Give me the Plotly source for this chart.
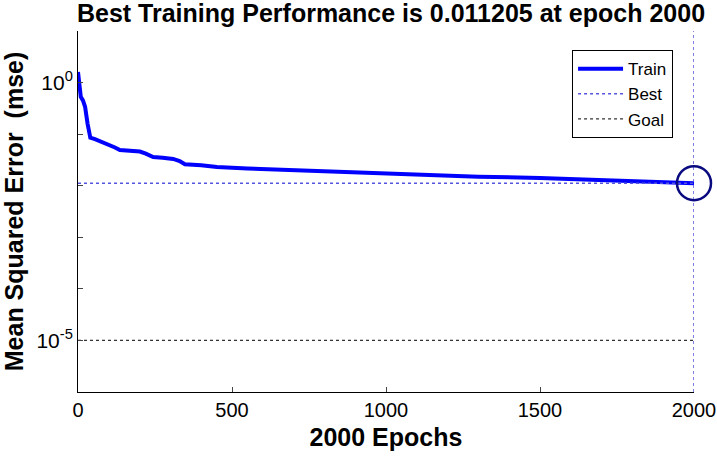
import plotly.graph_objects as go

# ---- data ----
epochs = [0, 4, 9, 16, 23, 31, 40, 55, 75, 104, 120, 136, 170, 201, 220, 244, 275, 309, 330, 347,
          400, 451, 550, 650, 743, 850, 1000, 1150, 1300, 1500, 1650, 1800, 1900, 2000]
train_mse = [1.6, 0.85, 0.53, 0.45, 0.34, 0.16, 0.085, 0.080, 0.072, 0.062, 0.055, 0.049, 0.047,
             0.046, 0.042, 0.036, 0.035, 0.033, 0.030, 0.026, 0.025, 0.023, 0.0215, 0.0205,
             0.0195, 0.0185, 0.0170, 0.0160, 0.0150, 0.0141, 0.0130, 0.0122, 0.0117, 0.011205]
best_epoch = 2000
best_perf = 0.011205
goal = 1e-5
y_min, y_max = 1e-6, 1e1
x_ticks = [0, 500, 1000, 1500, 2000]
y_tickvals = [1e0, 1e-5]
y_ticktext = ["10<sup>0</sup>", "10<sup>-5</sup>"]
y_minor = [1e1, 1e0, 1e-1, 1e-2, 1e-3, 1e-4, 1e-5, 1e-6]

FONT = "Liberation Sans, Arial, sans-serif"

fig = go.Figure()
fig.add_trace(go.Scatter(x=epochs, y=train_mse, mode="lines", name="Train",
                         line=dict(color="#0000ff", width=4)))
fig.add_trace(go.Scatter(x=[0, best_epoch, None, best_epoch, best_epoch],
                         y=[best_perf, best_perf, None, y_min, y_max],
                         mode="lines", name="Best",
                         line=dict(color="#5555dd", width=1.5, dash="dot")))
fig.add_trace(go.Scatter(x=[0, best_epoch], y=[goal, goal], mode="lines", name="Goal",
                         line=dict(color="#333333", width=1.2, dash="dot")))
fig.add_trace(go.Scatter(x=[best_epoch], y=[best_perf], mode="markers", showlegend=False,
                         cliponaxis=False,
                         marker=dict(symbol="circle-open", size=34,
                                     line=dict(color="#0a0a80", width=2.5), color="#0a0a80")))

fig.update_layout(
    width=717, height=462,
    margin=dict(l=78, r=23, t=31, b=70, autoexpand=False),
    paper_bgcolor="white", plot_bgcolor="white",
    font=dict(family=FONT, size=20, color="black"),
    title=dict(text="<b>Best Training Performance is 0.011205 at epoch 2000</b>",
               x=391 / 717, xanchor="center", y=0.99, yanchor="top",
               font=dict(family=FONT, size=25, color="black")),
    legend=dict(x=0.966, xanchor="right", y=0.947, yanchor="top",
                bordercolor="black", borderwidth=1, bgcolor="white",
                font=dict(family=FONT, size=17), tracegroupgap=0, itemwidth=45),
    showlegend=True,
)
fig.update_xaxes(range=[0, 2000], tickvals=x_ticks, ticks="inside", ticklen=5,
                 showline=True, linecolor="black", linewidth=1, showgrid=False, zeroline=False,
                 tickfont=dict(size=20), automargin=False,
                 title=dict(text="<b>2000 Epochs</b>", font=dict(size=25), standoff=8))
fig.update_yaxes(type="log", range=[-6, 1], tickvals=y_tickvals, ticktext=y_ticktext,
                 ticks="inside", ticklen=5, showline=True, linecolor="black", linewidth=1,
                 minor=dict(tickvals=y_minor, ticks="inside", ticklen=5, showgrid=False),
                 showgrid=False, zeroline=False, tickfont=dict(size=21), automargin=False,
                 title=dict(text="<b>Mean Squared Error &nbsp;(mse)</b>", font=dict(size=25), standoff=6))

fig.write_html("out.html", config={"displayModeBar": False},
               post_script="document.body.style.margin='0';document.body.style.overflow='hidden';")
